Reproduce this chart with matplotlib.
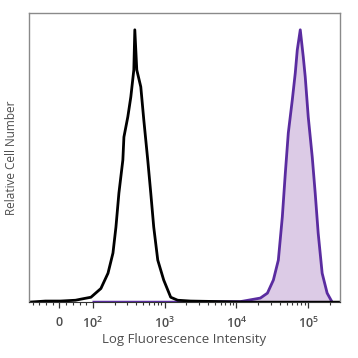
import numpy as np
import matplotlib.pyplot as plt
from matplotlib.ticker import FixedLocator

# 蛍光強度（リニア値）と相対細胞数
ctrl_x = [-91, -42, 3, 48, 64, 94, 129, 162, 190, 209, 230, 261, 270, 306, 337, 371,
          383, 408, 464, 511, 580, 639, 703, 800, 968, 1212, 1516, 2297, 5995, 15600, 278000]
ctrl_y = [0, 0.4, 0.4, 0.7, 1.1, 1.8, 5.0, 10.6, 18.0, 27.5, 40.0, 52.1, 60.5, 67.9, 75.2, 85.1,
          99.8, 85.1, 78.9, 66.8, 52.1, 40.0, 27.5, 15.4, 8.1, 1.8, 0.7, 0.4, 0.2, 0, 0]

stain_x = [103, 1212, 11370, 21540, 26980, 32680, 38310, 43530, 47940, 52750, 59950, 65980,
           70340, 77430, 85250, 90850, 100000, 113700, 125000, 137600, 156300, 183500, 215400]
stain_y = [0, 0, 0.2, 1.5, 3.3, 8.1, 15.4, 31.2, 47.3, 62.0, 74.1, 84.0,
           92.4, 99.8, 89.9, 82.5, 67.9, 53.2, 40.0, 25.3, 10.6, 3.3, 0]

major_ticks = [0, 1e2, 1e3, 1e4, 1e5]
major_labels = ['0', r'$\mathregular{10^{2}}$', r'$\mathregular{10^{3}}$',
                r'$\mathregular{10^{4}}$', r'$\mathregular{10^{5}}$']

plt.rcParams['font.family'] = ['Open Sans', 'DejaVu Sans']
plt.rcParams['font.weight'] = 'semibold'

fig = plt.figure(figsize=(3.58, 3.58), dpi=100)
ax = fig.add_axes([0.081, 0.156, 0.869, 0.808])
ax.set_xscale('symlog', linthresh=100, linscale=0.42)

ax.fill_between(stain_x, stain_y, color='#dccbe6', lw=0)
ax.plot(stain_x, stain_y, color='#5a2ca0', lw=2.0)
ax.plot(ctrl_x, ctrl_y, color='black', lw=2.0)

ax.set_xlim(-91, 278000)
ax.set_ylim(0, 106)

minors = [-80, -60, -40, -20, 20, 40, 60, 80]
for d in [1e2, 1e3, 1e4, 1e5]:
    minors += [k * d for k in range(2, 10) if k * d < 278000]
ax.xaxis.set_major_locator(FixedLocator(major_ticks))
ax.xaxis.set_minor_locator(FixedLocator(minors))
ax.set_xticklabels(major_labels)
ax.tick_params(axis='x', which='major', direction='out', length=4, width=0.9,
               colors='#333333', labelcolor='#4d4d4d', labelsize=9, pad=6)
ax.tick_params(axis='x', which='minor', direction='out', length=2.5, width=0.8, colors='#333333')
ax.set_yticks([])

for s in ['left', 'top', 'right']:
    ax.spines[s].set_color('#8a8a8a')
    ax.spines[s].set_linewidth(1.0)
ax.spines['bottom'].set_color('#333333')

ax.set_xlabel('Log Fluorescence Intensity', fontsize=9.5, color='#4d4d4d', labelpad=1)
ax.set_ylabel('Relative Cell Number', fontsize=8.5, color='#4d4d4d', labelpad=8)

fig.savefig('out.png', dpi=100)
